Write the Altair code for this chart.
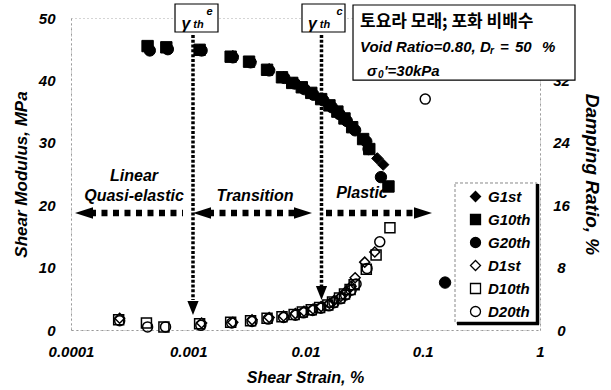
import altair as alt
import pandas as pd

# ---------------- data ----------------
strain_ticks = [0.0001, 0.001, 0.01, 0.1, 1]
g_ticks = [0, 10, 20, 30, 40, 50]
d_ticks = [0, 8, 16, 24, 32, 40]

series_names = ["G1st", "G10th", "G20th", "D1st", "D10th", "D20th"]
series_shapes = ["diamond", "square", "circle", "diamond", "square", "circle"]
series_fills = ["black", "black", "black", "transparent", "transparent", "transparent"]
series_strokes = ["black"] * 6

g1_strain = [0.00126, 0.0024, 0.0034, 0.0049, 0.0065, 0.0080, 0.0096, 0.0115, 0.0140,
             0.0165, 0.0190, 0.0220, 0.0260, 0.0320, 0.0410, 0.0460]
g1_mod = [44.9, 43.9, 43.0, 41.8, 40.5, 39.6, 38.8, 37.9, 37.0, 35.9, 34.9, 33.8, 32.3,
          30.4, 27.5, 26.5]
g10_strain = [0.00045, 0.00065, 0.00125, 0.0023, 0.0033, 0.0047, 0.0063, 0.0077, 0.0093,
              0.0112, 0.0136, 0.0160, 0.0187, 0.0215, 0.0250, 0.0310, 0.0350, 0.0510]
g10_mod = [45.5, 45.3, 44.9, 43.8, 43.0, 41.7, 40.5, 39.6, 38.9, 38.0, 37.0, 36.0, 35.0,
           33.9, 32.5, 30.6, 29.0, 23.0]
g20_strain = [0.00047, 0.00067, 0.0013, 0.0024, 0.0034, 0.0049, 0.0066, 0.0081, 0.0098,
              0.0117, 0.0142, 0.0168, 0.0195, 0.0225, 0.0265, 0.0330, 0.0345, 0.0440, 0.155]
g20_mod = [44.8, 45.0, 44.8, 43.7, 42.9, 41.6, 40.4, 39.5, 38.6, 37.7, 36.8, 35.7, 34.6,
           33.5, 32.0, 30.2, 29.0, 24.5, 7.6]

d1_strain = [0.00026, 0.0013, 0.0024, 0.0035, 0.0049, 0.0065, 0.0082, 0.0097, 0.0116,
             0.0136, 0.0160, 0.0176, 0.0200, 0.0220, 0.0245, 0.0265, 0.0320, 0.0390]
d1_damp = [1.5, 0.9, 1.0, 1.3, 1.6, 1.8, 2.1, 2.4, 2.7, 3.0, 3.4, 3.8, 4.3, 4.9, 5.6, 6.7,
           8.7, 10.0]
d10_strain = [0.000255, 0.00044, 0.00062, 0.00125, 0.0023, 0.0034, 0.0047, 0.0063, 0.0080,
              0.0094, 0.0112, 0.0132, 0.0155, 0.0170, 0.0195, 0.0215, 0.0240, 0.0260,
              0.0330, 0.0400, 0.0525]
d10_damp = [1.3, 0.9, 0.4, 0.8, 1.0, 1.2, 1.5, 1.7, 2.0, 2.3, 2.6, 2.9, 3.2, 3.6, 4.1, 4.6,
            5.2, 5.8, 7.8, 9.6, 13.1]
d20_strain = [0.00026, 0.00045, 0.00064, 0.00128, 0.00235, 0.0035, 0.0048, 0.0065, 0.0082,
              0.0096, 0.0115, 0.0135, 0.0158, 0.0175, 0.0200, 0.0220, 0.0245, 0.0270,
              0.0335, 0.0430, 0.105]
d20_damp = [1.2, 0.4, 0.4, 0.6, 0.9, 1.1, 1.4, 1.6, 1.9, 2.2, 2.5, 2.8, 3.1, 3.5, 4.0, 4.5,
            5.1, 5.9, 7.9, 11.3, 29.6]

# annotation texts (positions in data units: strain, shear modulus)
zone_text = ["Linear", "Quasi-elastic", "Transition", "Plastic"]
zone_x = [3.446e-4, 3.446e-4, 3.71e-3, 3.03e-2]
zone_y = [24.68, 21.47, 21.47, 21.96]

# threshold boxes and info box (x1, x2, y1, y2)
box_x1 = [7.71e-4, 9.334e-3, 0.02542]
box_x2 = [1.7935e-3, 0.02172, 1.988]
box_y1 = [52.24, 52.24, 52.08]
box_y2 = [47.76, 47.76, 40.06]

# arrows
h_x1 = [1.452e-4, 1.474e-3, 1.4956e-2]
h_x2 = [9.02e-4, 8.46e-3, 8.42e-2]
h_y = [18.75, 18.75, 18.75]
v_x = [1.0977e-3, 0.01369]
v_y1 = [47.28, 47.28]
v_y2 = [4.81, 7.05]
head_left_x = [1.291e-4, 1.310e-3]
head_right_x = [9.52e-3, 0.1005]
head_down_y = [3.53, 5.93]

# legend frame
leg_x1, leg_x2, leg_y1, leg_y2 = 0.1884, 0.9428, 23.56, 1.12

# ---------------- frames ----------------
def frame(strains, vals, name):
    return pd.DataFrame({"strain": strains, "val": vals, "series": name})

gdf = pd.concat([frame(g1_strain, g1_mod, "G1st"), frame(g10_strain, g10_mod, "G10th"),
                 frame(g20_strain, g20_mod, "G20th")])
ddf = pd.concat([frame(d1_strain, d1_damp, "D1st"), frame(d10_strain, d10_damp, "D10th"),
                 frame(d20_strain, d20_damp, "D20th")])

FONT = "Liberation Sans"
xscale = alt.Scale(type="log", domain=[0.0001, 1])
gscale = alt.Scale(domain=[0, 50])
dscale = alt.Scale(domain=[0, 40])

legend = alt.Legend(title=None, orient="none", legendX=397, legendY=171, padding=0,
                    rowPadding=6, labelOffset=5, labelFont=FONT, labelFontSize=15,
                    labelFontWeight="bold", labelFontStyle="italic", labelColor="black",
                    symbolSize=100, symbolStrokeColor="black", symbolStrokeWidth=1.3,
                    symbolOpacity=1)
shape_enc = alt.Shape("series:N", scale=alt.Scale(domain=series_names, range=series_shapes),
                      legend=legend)
fill_enc = alt.Fill("series:N", scale=alt.Scale(domain=series_names, range=series_fills),
                    legend=legend)
stroke_enc = alt.Stroke("series:N",
                        scale=alt.Scale(domain=series_names, range=series_strokes),
                        legend=legend)

xaxis = alt.Axis(values=strain_ticks, format="~g", title="Shear Strain, %", titleX=234,
                 titleY=47, titleAlign="center", titleBaseline="middle", labelPadding=14,
                 ticks=False, titleFontSize=16, labelFlush=False, labelOverlap=False)
gaxis = alt.Axis(values=g_ticks, title="Shear Modulus, MPa", titleX=-50, titleY=156,
                 titleAngle=270, titleAlign="center", titleBaseline="middle",
                 labelPadding=16, ticks=False, titleFontSize=17, labelFlush=False)
daxis = alt.Axis(orient="right", values=d_ticks, title="Damping Ratio, %", titleX=51,
                 titleY=156, titleAngle=90, titleAlign="center", titleBaseline="middle",
                 labelAlign="center", labelPadding=21, ticks=False, zindex=0,
                 titleFontSize=19, labelFlush=False)

def X(field):
    return alt.X(field, type="quantitative", scale=xscale, axis=xaxis)

def Y(field):
    return alt.Y(field, type="quantitative", scale=gscale, axis=gaxis)

gpoints = alt.Chart(gdf).mark_point(filled=True, size=130, opacity=1,
                                    strokeWidth=1).encode(
    x=X("strain"), y=Y("val"), shape=shape_enc, fill=fill_enc, stroke=stroke_enc)

dpoints = alt.Chart(ddf).mark_point(filled=True, size=100, opacity=1,
                                    strokeWidth=1.5).encode(
    x=X("strain"),
    y=alt.Y("val:Q", scale=dscale, axis=daxis),
    shape=shape_enc, fill=fill_enc, stroke=stroke_enc)

hdf = pd.DataFrame({"x1": h_x1, "x2": h_x2, "y": h_y})
hlines = alt.Chart(hdf).mark_rule(strokeWidth=6.5, strokeDash=[6, 5.5], color="black",
                                  strokeCap="butt").encode(x=X("x1"), x2="x2", y=Y("y"))
vdf = pd.DataFrame({"x": v_x, "y1": v_y1, "y2": v_y2})
vlines = alt.Chart(vdf).mark_rule(strokeWidth=3.5, strokeDash=[3, 1.8], color="black",
                                  strokeCap="butt").encode(x=X("x"), y=Y("y1"), y2="y2")

hl = pd.DataFrame({"x": head_left_x, "y": [18.75, 18.75]})
hr = pd.DataFrame({"x": head_right_x, "y": [18.75, 18.75]})
hd = pd.DataFrame({"x": v_x, "y": head_down_y})
heads_l = alt.Chart(hl).mark_point(shape="M-1,0L1,-0.65L1,0.65Z", filled=True, size=324,
                                   color="black", opacity=1).encode(x=X("x"), y=Y("y"))
heads_r = alt.Chart(hr).mark_point(shape="M1,0L-1,-0.65L-1,0.65Z", filled=True, size=324,
                                   color="black", opacity=1).encode(x=X("x"), y=Y("y"))
heads_d = alt.Chart(hd).mark_point(shape="M0,1L-0.8,-1L0.8,-1Z", filled=True, size=196,
                                   color="black", opacity=1).encode(x=X("x"), y=Y("y"))

zdf = pd.DataFrame({"x": zone_x, "y": zone_y, "t": zone_text})
zones = alt.Chart(zdf).mark_text(font=FONT, fontSize=16, fontWeight="bold",
                                 fontStyle="italic", align="center", baseline="middle",
                                 color="black").encode(x=X("x"), y=Y("y"), text="t:N")

bdf = pd.DataFrame({"x1": box_x1, "x2": box_x2, "y1": box_y1, "y2": box_y2})
boxes = alt.Chart(bdf).mark_rect(fill="white", stroke="black", strokeWidth=1.2).encode(
    x=X("x1"), x2="x2", y=Y("y1"), y2="y2")

def txt(xs, ys, ts, size, weight="bold", style="italic", font=FONT, align="center"):
    df = pd.DataFrame({"x": xs, "y": ys, "t": ts})
    return alt.Chart(df).mark_text(font=font, fontSize=size, fontWeight=weight,
                                   fontStyle=style, align=align, baseline="middle",
                                   color="black").encode(x=X("x"), y=Y("y"), text="t:N")

gam = txt([9.567e-4, 0.011475], [49.04, 49.04], ["γ", "γ"], 16)
th = txt([1.2230e-3, 0.014665], [48.88, 48.88], ["th", "th"], 11)
sup = txt([1.5178e-3, 0.019498], [50.96, 50.96], ["e", "c"], 11)

kor = txt([0.02916], [49.36], ["토요라 모래; 포화 비배수"], 17, style="normal",
          font="Noto Sans CJK KR", align="left")
line2 = txt([0.02916, 0.4557, 0.6118, 1.040], [45.35] * 4,
            ["Void Ratio=0.80, D", "=", "50", "%"], 15, align="left")
sub_r = txt([0.3746], [44.71], ["r"], 10, align="left")
sigma = txt([0.03346, 0.04671], [41.51, 41.51], ["σ", "'=30kPa"], 15, align="left")
sub0 = txt([0.04153], [40.87], ["0"], 10, align="left")

ldf = pd.DataFrame({"x1": [leg_x1], "x2": [leg_x2], "y1": [leg_y1], "y2": [leg_y2]})
legframe = alt.Chart(ldf).mark_rect(fill="white", stroke="#888", strokeWidth=1,
                                    strokeDash=[3, 2]).encode(
    x=X("x1"), x2="x2", y=Y("y1"), y2="y2")
sdf_r = pd.DataFrame({"x": [0.9521], "y1": [23.4], "y2": [0.9]})
sdf_b = pd.DataFrame({"x1": [0.1959], "x2": [0.9806], "y": [1.04]})
shadow_r = alt.Chart(sdf_r).mark_rule(strokeWidth=3.5, color="black").encode(
    x=X("x"), y=Y("y1"), y2="y2")
shadow_b = alt.Chart(sdf_b).mark_rule(strokeWidth=3.5, color="black").encode(
    x=X("x1"), x2="x2", y=Y("y"))

layer_g = alt.layer(legframe, shadow_r, shadow_b, hlines, vlines, heads_l, heads_r,
                    heads_d, zones, gpoints, boxes, gam, th, sup, kor, line2, sub_r,
                    sigma, sub0)
layer_d = alt.layer(dpoints)

chart = alt.layer(layer_g, layer_d).resolve_scale(y="independent").properties(
    width=469, height=312,
    padding={"left": 71, "top": 18, "right": 71, "bottom": 60},
    autosize=alt.AutoSizeParams(type="none"),
    background="white",
).configure_view(stroke="#aaa", strokeDash=[1, 3]).configure_axis(
    grid=False, labelFont=FONT, labelFontSize=15, labelFontWeight="bold",
    labelFontStyle="italic", labelColor="black", titleFont=FONT,
    titleFontWeight="bold", titleFontStyle="italic", titleColor="black",
    domainColor="#999", domainDash=[2, 3], domainWidth=1)

chart.save("out.html", embed_options={"renderer": "svg", "actions": False})
